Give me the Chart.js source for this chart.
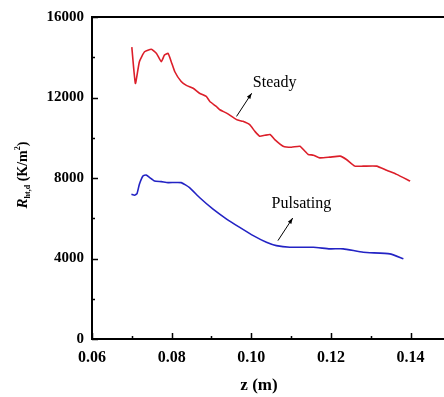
<!DOCTYPE html>
<html>
<head>
<meta charset="utf-8">
<script src="https://cdn.jsdelivr.net/npm/chart.js@4.4.0/dist/chart.umd.min.js"></script>
<style>
  html, body { margin: 0; padding: 0; background: #fff; overflow: hidden; }
  #wrap { width: 444px; height: 397px; }
</style>
</head>
<body>
<div id="wrap"><canvas id="chart" width="444" height="397"></canvas></div>
<script>
// Steady flow curve (z in m, R in K/m^2)
const steadyZ = [0.0700, 0.0709, 0.0719, 0.0732, 0.0749, 0.0762, 0.0774, 0.0782, 0.0791, 0.0799,
    0.0808, 0.0824, 0.0837, 0.0854, 0.0870, 0.0887, 0.0896, 0.0912, 0.0921, 0.0938,
    0.0963, 0.0979, 0.0996, 0.1009, 0.1021, 0.1034, 0.1047, 0.1059, 0.1080, 0.1101,
    0.1122, 0.1135, 0.1143, 0.1156, 0.1172, 0.1197, 0.1223, 0.1239, 0.1260, 0.1281,
    0.1315, 0.1340, 0.1365, 0.1399];
const steadyR = [14500, 12700, 13780, 14270, 14400, 14190, 13780, 14110, 14190, 13780,
    13280, 12790, 12600, 12460, 12210, 12050, 11800, 11555, 11390, 11225,
    10900, 10815, 10650, 10320, 10075, 10120, 10160, 9910, 9580, 9530,
    9580, 9330, 9170, 9135, 9000, 9035, 9085, 8920, 8590, 8590,
    8590, 8380, 8180, 7850];

// Pulsating flow curve
const pulsZ = [0.0699, 0.0707, 0.0713, 0.0719, 0.0728, 0.0736, 0.0745, 0.0757, 0.0774, 0.0791,
    0.0824, 0.0845, 0.0870, 0.0904, 0.0938, 0.0971, 0.1005, 0.1038, 0.1063, 0.1097,
    0.1156, 0.1197, 0.1231, 0.1281, 0.1348, 0.1382];
const pulsR = [7195, 7145, 7225, 7690, 8100, 8150, 8015, 7850, 7820, 7770,
    7770, 7520, 7030, 6450, 5960, 5545, 5135, 4805, 4640, 4560,
    4560, 4480, 4480, 4310, 4230, 3985];

// Axis ticks
const xTicks = [0.06, 0.08, 0.10, 0.12, 0.14];
const xMinorTicks = [0.07, 0.09, 0.11, 0.13];
const yTicks = [0, 4000, 8000, 12000, 16000];
const yMinorTicks = [2000, 6000, 10000, 14000];

// Annotation labels and arrows: [fromZ, fromR, toZ, toR]
const labelText = ['Steady', 'Pulsating'];
const labelAt = [[0.1004, 12740], [0.1051, 6720]];
const arrows = [[0.0963, 11060, 0.1001, 12210], [0.1067, 4890, 0.1104, 6010]];

const serif = '"Liberation Serif", "Times New Roman", serif';

function toPoints(xs, ys) {
    return xs.map((x, i) => ({ x: x, y: ys[i] }));
}

// Extra drawing: inward ticks, top frame, axis titles, annotations
const decor = {
    id: 'decor',
    afterDraw(chart) {
        const ctx = chart.ctx;
        const xs = chart.scales.x;
        const ys = chart.scales.y;
        const area = chart.chartArea;
        ctx.save();
        ctx.strokeStyle = '#000';
        ctx.fillStyle = '#000';

        // top frame line
        ctx.lineWidth = 2;
        ctx.beginPath();
        ctx.moveTo(area.left, area.top);
        ctx.lineTo(area.right, area.top);
        ctx.stroke();

        // inward tick marks
        ctx.lineWidth = 1.5;
        ctx.beginPath();
        xTicks.forEach(v => {
            const px = Math.round(xs.getPixelForValue(v)) + 0.5;
            ctx.moveTo(px, area.bottom); ctx.lineTo(px, area.bottom - 6);
        });
        xMinorTicks.forEach(v => {
            const px = Math.round(xs.getPixelForValue(v)) + 0.5;
            ctx.moveTo(px, area.bottom); ctx.lineTo(px, area.bottom - 3);
        });
        yTicks.forEach(v => {
            const py = Math.round(ys.getPixelForValue(v)) + 0.5;
            ctx.moveTo(area.left, py); ctx.lineTo(area.left + 6, py);
        });
        yMinorTicks.forEach(v => {
            const py = Math.round(ys.getPixelForValue(v)) + 0.5;
            ctx.moveTo(area.left, py); ctx.lineTo(area.left + 3, py);
        });
        ctx.stroke();

        // x axis title
        ctx.font = 'bold 17px ' + serif;
        ctx.textAlign = 'center';
        ctx.textBaseline = 'middle';
        ctx.fillText('z (m)', 259, 386);

        // y axis title, rotated, with sub/superscripts
        ctx.save();
        ctx.translate(27, 175);
        ctx.rotate(-Math.PI / 2);
        ctx.textAlign = 'left';
        ctx.textBaseline = 'alphabetic';
        const parts = [
            ['R', 'italic bold 15px ', 0],
            ['ht,d', 'bold 8px ', 3],
            [' (K/m', 'bold 14px ', 0],
            ['2', 'bold 8px ', -7],
            [')', 'bold 14px ', 0]
        ];
        let total = 0;
        parts.forEach(p => { ctx.font = p[1] + serif; total += ctx.measureText(p[0]).width; });
        let cx = -total / 2;
        parts.forEach(p => {
            ctx.font = p[1] + serif;
            ctx.fillText(p[0], cx, p[2]);
            cx += ctx.measureText(p[0]).width;
        });
        ctx.restore();

        // annotation labels
        ctx.font = '16px ' + serif;
        ctx.textAlign = 'left';
        ctx.textBaseline = 'middle';
        labelText.forEach((t, i) => {
            ctx.fillText(t, xs.getPixelForValue(labelAt[i][0]), ys.getPixelForValue(labelAt[i][1]));
        });

        // arrows
        ctx.lineWidth = 1;
        arrows.forEach(a => {
            const x0 = xs.getPixelForValue(a[0]), y0 = ys.getPixelForValue(a[1]);
            const x1 = xs.getPixelForValue(a[2]), y1 = ys.getPixelForValue(a[3]);
            const ang = Math.atan2(y1 - y0, x1 - x0);
            ctx.beginPath();
            ctx.moveTo(x0, y0);
            ctx.lineTo(x1, y1);
            ctx.stroke();
            ctx.beginPath();
            ctx.moveTo(x1, y1);
            ctx.lineTo(x1 - 6 * Math.cos(ang - 0.35), y1 - 6 * Math.sin(ang - 0.35));
            ctx.lineTo(x1 - 6 * Math.cos(ang + 0.35), y1 - 6 * Math.sin(ang + 0.35));
            ctx.closePath();
            ctx.fill();
        });
        ctx.restore();
    }
};

const chart = new Chart(document.getElementById('chart'), {
    type: 'scatter',
    data: {
        datasets: [{
            label: 'Steady',
            data: toPoints(steadyZ, steadyR),
            showLine: true,
            borderColor: '#dc1f2a',
            borderWidth: 1.6,
            pointRadius: 0,
            tension: 0.15
        }, {
            label: 'Pulsating',
            data: toPoints(pulsZ, pulsR),
            showLine: true,
            borderColor: '#2323c4',
            borderWidth: 1.6,
            pointRadius: 0,
            tension: 0.15
        }]
    },
    options: {
        responsive: false,
        animation: false,
        layout: { padding: { top: 15, right: 0, bottom: 0, left: 0 } },
        plugins: {
            legend: { display: false },
            tooltip: { enabled: false }
        },
        scales: {
            x: {
                type: 'linear',
                min: 0.06,
                max: 0.1484,
                grid: { display: false, drawTicks: false },
                border: { display: true, color: '#000', width: 2 },
                afterBuildTicks: scale => {
                    scale.ticks = xTicks.map(v => ({ value: v }));
                },
                afterFit: scale => { scale.height = 58; },
                ticks: {
                    padding: 9,
                    color: '#000',
                    maxRotation: 0,
                    font: { family: serif, size: 16, weight: 'bold' },
                    callback: v => v.toFixed(2)
                }
            },
            y: {
                min: 0,
                max: 16000,
                grid: { display: false, drawTicks: false },
                border: { display: true, color: '#000', width: 2 },
                afterBuildTicks: scale => {
                    scale.ticks = yTicks.map(v => ({ value: v }));
                },
                afterFit: scale => { scale.width = 92; },
                ticks: {
                    padding: 8,
                    color: '#000',
                    font: { family: serif, size: 15, weight: 'bold' },
                    callback: v => String(v)
                }
            }
        }
    },
    plugins: [decor]
});
</script>
</body>
</html>
